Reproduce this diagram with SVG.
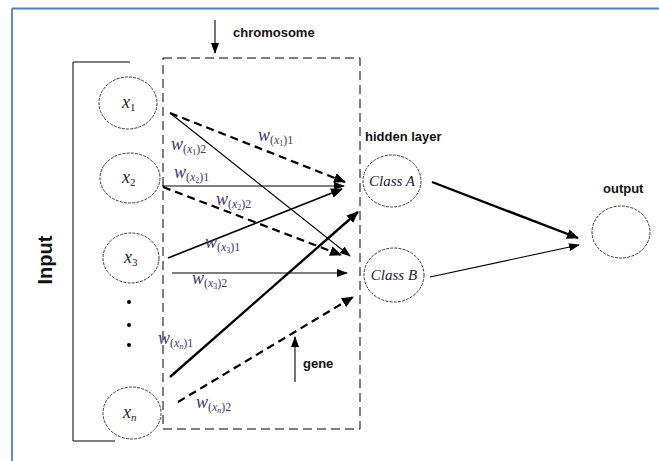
<svg xmlns="http://www.w3.org/2000/svg" width="659" height="461" viewBox="0 0 659 461">
<defs>
<marker id="ah" markerUnits="userSpaceOnUse" markerWidth="12" markerHeight="10" refX="11" refY="5" orient="auto"><path d="M0,0 L12,5 L0,10 Z" fill="#000"/></marker>
<marker id="ahs" markerUnits="userSpaceOnUse" markerWidth="11" markerHeight="8" refX="10" refY="4" orient="auto"><path d="M0,0 L11,4 L0,8 Z" fill="#000"/></marker>
</defs>
<style>
.node ellipse{fill:#fff;stroke:#222;stroke-width:0.9;stroke-dasharray:3,1.2}
.lbl{font-family:"Liberation Sans",Arial,sans-serif;font-weight:bold;font-size:13px;fill:#111}
.xv{font-family:"Liberation Serif","Times New Roman",serif;font-style:italic;font-size:18px;fill:#223}
.sub{font-size:11px;font-style:normal}
.w{font-family:"Liberation Serif","Times New Roman",serif;font-size:12px;fill:#4a3768}
.w .wi{font-style:italic;font-size:18px}
.cl{font-family:"Liberation Serif","Times New Roman",serif;font-style:italic;font-size:15px;fill:#223}
.thin{stroke:#000;stroke-width:1.1;fill:none;marker-end:url(#ahs)}
.med{stroke:#000;stroke-width:1.6;fill:none;marker-end:url(#ah)}
.thick{stroke:#000;stroke-width:2.4;fill:none;marker-end:url(#ah)}
.dash{stroke:#000;stroke-width:2.2;stroke-dasharray:8,5;fill:none;marker-end:url(#ah)}
</style>
<rect width="659" height="461" fill="#fff"/>
<g id="frame">
<line x1="12" y1="8.5" x2="659" y2="8.5" stroke="#4f81bd" stroke-width="1.8"/>
<line x1="12" y1="8.5" x2="12" y2="461" stroke="#4f81bd" stroke-width="1.8"/>
</g>
<g id="input-bracket">
<polyline points="130,62 73,62 73,441 115,441" fill="none" stroke="#000" stroke-width="1"/>
<text class="lbl" transform="translate(52,260) rotate(-90)" text-anchor="middle" style="font-size:20px">Input</text>
</g>
<g id="chromosome">
<rect x="163" y="58" width="197" height="371" fill="none" stroke="#000" stroke-width="1" stroke-dasharray="9,5"/>
<line x1="215" y1="20" x2="215" y2="53" class="thin"/>
<text class="lbl" x="233" y="37">chromosome</text>
</g>
<g id="gene">
<line x1="295" y1="382" x2="295" y2="337" class="thin"/>
<text class="lbl" x="303" y="368">gene</text>
</g>
<g id="x1" class="node"><ellipse cx="128" cy="103" rx="29" ry="26"/><text class="xv" x="122" y="108">x<tspan class="sub" dy="3">1</tspan></text></g>
<g id="x2" class="node"><ellipse cx="130" cy="178" rx="30" ry="25"/><text class="xv" x="122" y="183">x<tspan class="sub" dy="3">2</tspan></text></g>
<g id="x3" class="node"><ellipse cx="131" cy="258" rx="28" ry="25"/><text class="xv" x="124" y="263">x<tspan class="sub" dy="3">3</tspan></text></g>
<g id="dots"><circle cx="129" cy="302" r="2" fill="#000"/><circle cx="129" cy="325" r="2" fill="#000"/><circle cx="129" cy="345" r="2" fill="#000"/></g>
<g id="xn" class="node"><ellipse cx="132" cy="413" rx="29" ry="26"/><text class="xv" x="123" y="418">x<tspan class="sub" dy="3" style="font-style:italic">n</tspan></text></g>
<g id="classA" class="node"><ellipse cx="392" cy="181" rx="29" ry="26"/><text class="cl" x="392" y="186" text-anchor="middle">Class A</text></g>
<g id="classB" class="node"><ellipse cx="394" cy="275" rx="30" ry="27"/><text class="cl" x="394" y="280" text-anchor="middle">Class B</text></g>
<g id="output" class="node"><ellipse cx="621" cy="232" rx="29" ry="26"/></g>
<text class="lbl" x="365" y="141">hidden layer</text>
<text class="lbl" x="603" y="193">output</text>
<g id="connectors">
<line x1="170" y1="113" x2="345" y2="182" class="dash"/>
<line x1="170" y1="113" x2="350" y2="256" class="thin"/>
<line x1="162" y1="186" x2="344" y2="186" class="thin"/>
<line x1="163" y1="187" x2="341" y2="255" class="dash"/>
<line x1="168" y1="258" x2="342" y2="189" class="med"/>
<line x1="172" y1="273" x2="347" y2="273" class="thin"/>
<line x1="170" y1="377" x2="358" y2="212" class="thick"/>
<line x1="178" y1="402" x2="353" y2="297" class="dash"/>
<line x1="432" y1="182" x2="578" y2="238" class="thick"/>
<line x1="430" y1="277" x2="579" y2="245" class="thin"/>
</g>
<g id="weights">
<text class="w" x="258" y="141"><tspan class="wi">w</tspan><tspan dy="3">(</tspan><tspan font-style="italic">x</tspan><tspan font-size="8" dy="2">1</tspan><tspan dy="-2">)1</tspan></text>
<text class="w" x="171" y="150"><tspan class="wi">w</tspan><tspan dy="3">(</tspan><tspan font-style="italic">x</tspan><tspan font-size="8" dy="2">1</tspan><tspan dy="-2">)2</tspan></text>
<text class="w" x="174" y="178"><tspan class="wi">w</tspan><tspan dy="3">(</tspan><tspan font-style="italic">x</tspan><tspan font-size="8" dy="2">2</tspan><tspan dy="-2">)1</tspan></text>
<text class="w" x="216" y="205"><tspan class="wi">w</tspan><tspan dy="3">(</tspan><tspan font-style="italic">x</tspan><tspan font-size="8" dy="2">2</tspan><tspan dy="-2">)2</tspan></text>
<text class="w" x="205" y="248"><tspan class="wi">w</tspan><tspan dy="3">(</tspan><tspan font-style="italic">x</tspan><tspan font-size="8" dy="2">3</tspan><tspan dy="-2">)1</tspan></text>
<text class="w" x="192" y="284"><tspan class="wi">w</tspan><tspan dy="3">(</tspan><tspan font-style="italic">x</tspan><tspan font-size="8" dy="2">3</tspan><tspan dy="-2">)2</tspan></text>
<text class="w" x="158" y="344"><tspan class="wi">w</tspan><tspan dy="3">(</tspan><tspan font-style="italic">x</tspan><tspan font-size="8" dy="2" font-style="italic">n</tspan><tspan dy="-2">)1</tspan></text>
<text class="w" x="196" y="408"><tspan class="wi">w</tspan><tspan dy="3">(</tspan><tspan font-style="italic">x</tspan><tspan font-size="8" dy="2" font-style="italic">n</tspan><tspan dy="-2">)2</tspan></text>
</g>
</svg>
